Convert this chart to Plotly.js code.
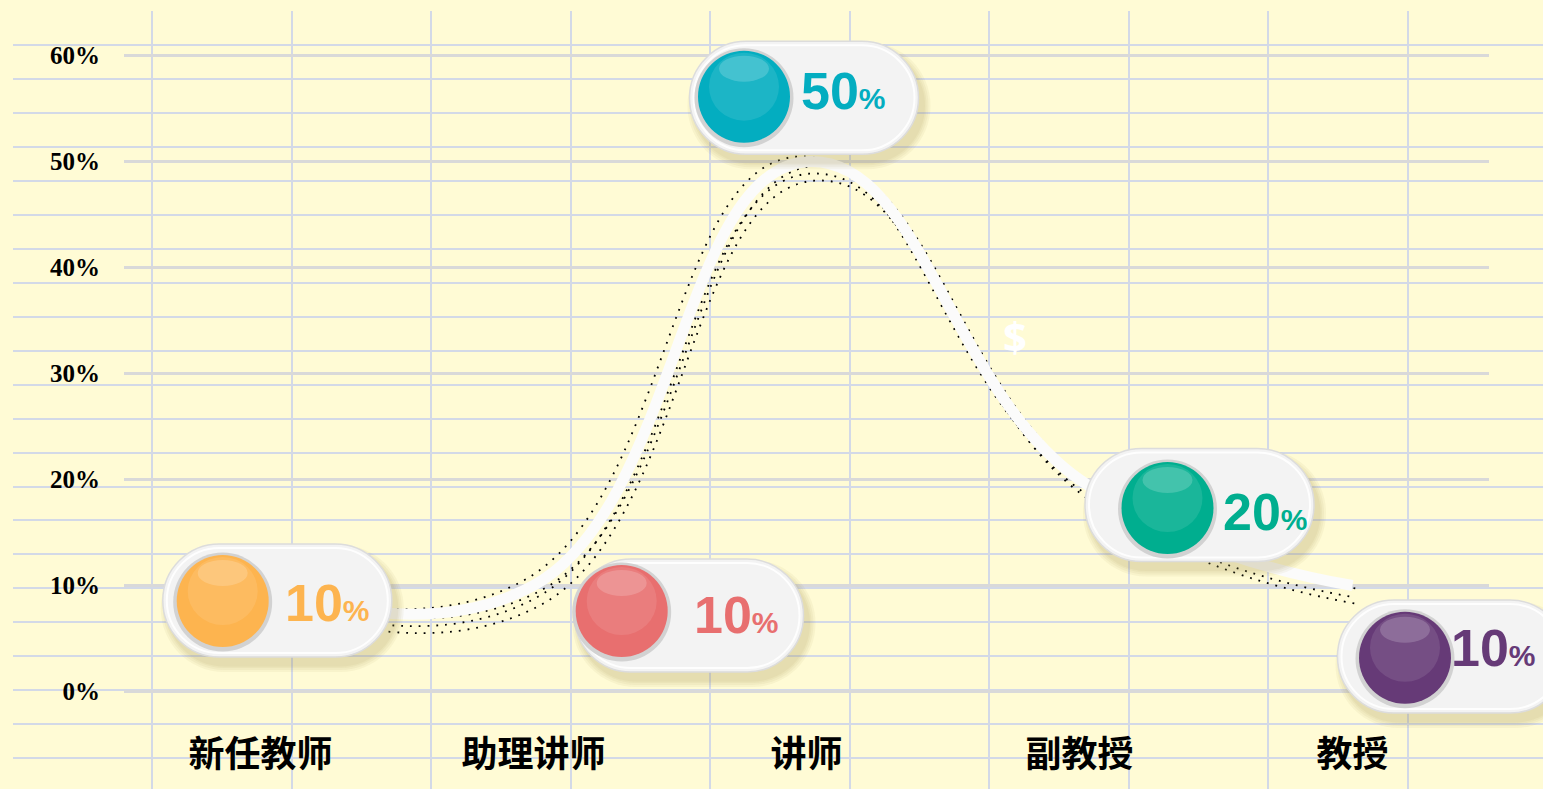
<!DOCTYPE html>
<html><head><meta charset="utf-8">
<script src="https://cdn.plot.ly/plotly-3.0.1.min.js"></script>
<style>html,body{margin:0;padding:0;background:#fffbd5;overflow:hidden}</style>
</head><body><div id="chart" style="width:1543px;height:789px"></div>
<script>
// ---- data ----
const categories = ['新任教师', '助理讲师', '讲师', '副教授', '教授'];
const values = [10, 10, 50, 20, 10];
const yTickValues = [0, 10, 20, 30, 40, 50, 60];
const ballColors = ['#FDB44F', '#E86F6F', '#03ADC0', '#00AE8F', '#663A77'];

// ---- geometry / style ----
const W = 1543, H = 789;
const PLOT_L = 124, PLOT_R = 1489, Y0PX = 691.5, YTOPPX = 55.7, Y_MAX = 60;
const ppu = (Y0PX - YTOPPX) / Y_MAX;
const catW = (PLOT_R - PLOT_L) / categories.length;
const xFull = [-0.5 - PLOT_L / catW, categories.length - 0.5 + (W - PLOT_R) / catW];
const yFull = [-(H - Y0PX) / ppu, Y_MAX + YTOPPX / ppu];

// per-label decoration offsets (px, screen coords, down positive)
const pillLayout = [
  {pill: [16.8, 15], ball: [-37.8, 15.5], text: [67, 17.5]},
  {pill: [155.5, 30], ball: [88.2, 25.5], text: [202.5, 29.8]},
  {pill: [-2.5, -63.8], ball: [-62.5, -65], text: [37, -70.7]},
  {pill: [120, 25.4], ball: [88, 28.4], text: [186, 32]},
  {pill: [99.5, 71], ball: [52.5, 72.2], text: [141, 62]}
];
const PILL_W = 229, PILL_H = 113, BALL_R = 46;
const shadowOffsets = [[9, 4], [-10, -5], [3, 12], [8, 19]];

const traces = [];
const layout = {
  width: W, height: H,
  margin: {l: 0, r: 0, t: 0, b: 0},
  paper_bgcolor: '#fffbd5',
  plot_bgcolor: 'rgba(0,0,0,0)',
  showlegend: false,
  // graph-paper background
  xaxis: {domain: [13 / W, 1], range: [13, W], tick0: 13, dtick: 139.45, showgrid: true,
          gridcolor: '#d3d9e7', gridwidth: 2, zeroline: false, showticklabels: false, ticks: '', fixedrange: true, anchor: 'y'},
  yaxis: {domain: [0, 1 - 11 / H], range: [H, 11], tick0: 11, dtick: 33.965, showgrid: true,
          gridcolor: '#d3d9e7', gridwidth: 2, zeroline: false, showticklabels: false, ticks: '', fixedrange: true, anchor: 'x'},
  // visible chart axes
  xaxis2: {domain: [PLOT_L / W, PLOT_R / W], type: 'category', range: [-0.5, categories.length - 0.5], anchor: 'y2',
           showgrid: false, zeroline: false,
           ticks: 'outside', ticklen: 21, tickcolor: 'rgba(0,0,0,0)', showline: false, fixedrange: true,
           tickfont: {family: '"Noto Sans CJK SC", sans-serif', size: 36, color: '#000', weight: 'bold'}},
  yaxis2: {domain: [(H - (Y0PX + ppu)) / H, (H - (YTOPPX - ppu)) / H], range: [-1, Y_MAX + 1], anchor: 'x2',
           tickvals: yTickValues, ticktext: yTickValues.map(v => v + '%'), showgrid: true,
           gridcolor: '#d9d9d9', gridwidth: 3, zeroline: false, showline: false,
           ticks: 'outside', ticklen: 18, tickcolor: 'rgba(0,0,0,0)', fixedrange: true,
           tickfont: {family: '"Liberation Serif", "Times New Roman", serif', size: 25, color: '#000', weight: 'bold'}},
  shapes: [],
  annotations: []
};

// placeholder traces (draw nothing) so the background grid and chart axes are built
traces.push({x: values, y: values, xaxis: 'x', yaxis: 'y', mode: 'none', hoverinfo: 'skip'});
traces.push({x: categories, y: values, xaxis: 'x2', yaxis: 'y2', mode: 'none', hoverinfo: 'skip'});

// dotted shadow traces (shifted axes) + white line
shadowOffsets.forEach((o, k) => {
  const n = 3 + k;
  const dx = o[0] / catW, dy = o[1] / ppu;
  layout['xaxis' + n] = {domain: [0, 1], range: [xFull[0] - dx, xFull[1] - dx], type: 'category', visible: false, fixedrange: true, anchor: 'y' + n};
  layout['yaxis' + n] = {domain: [0, 1], range: [yFull[0] + dy, yFull[1] + dy], visible: false, fixedrange: true, anchor: 'x' + n};
  traces.push({x: categories, y: values, xaxis: 'x' + n, yaxis: 'y' + n, mode: 'lines', hoverinfo: 'skip',
    line: {shape: 'spline', smoothing: 1.3, color: '#000', width: 1.8, dash: '1.8px,7px'}});
});
const M = 3 + shadowOffsets.length;
layout['xaxis' + M] = {domain: [0, 1], range: xFull, type: 'category', visible: false, fixedrange: true, anchor: 'y' + M};
layout['yaxis' + M] = {domain: [0, 1], range: yFull, visible: false, fixedrange: true, anchor: 'x' + M};
traces.push({x: categories, y: values, xaxis: 'x' + M, yaxis: 'y' + M, mode: 'lines', hoverinfo: 'skip',
  line: {shape: 'spline', smoothing: 1.3, color: '#fbfbfb', width: 11}});

// ---- pill labels ----
const P = (x, y) => x.toFixed(2) + ',' + (-y).toFixed(2);
function stadium(cx, cy, w, h) {
  const r = h / 2, k = 0.5523 * r;
  const x0 = cx - w / 2 + r, x1 = cx + w / 2 - r, t = cy - r, b = cy + r;
  return 'M' + P(x0, t) + ' L' + P(x1, t) +
    ' C' + P(x1 + k, t) + ' ' + P(x1 + r, cy - k) + ' ' + P(x1 + r, cy) +
    ' C' + P(x1 + r, cy + k) + ' ' + P(x1 + k, b) + ' ' + P(x1, b) +
    ' L' + P(x0, b) +
    ' C' + P(x0 - k, b) + ' ' + P(x0 - r, cy + k) + ' ' + P(x0 - r, cy) +
    ' C' + P(x0 - r, cy - k) + ' ' + P(x0 - k, t) + ' ' + P(x0, t) + ' Z';
}
const XR = 'x' + M, YR = 'y' + M;
function base(i) {
  return {xref: XR, yref: YR, xsizemode: 'pixel', ysizemode: 'pixel', xanchor: categories[i], yanchor: values[i], layer: 'above'};
}
function circle(i, cx, cy, rx, ry, fill, line) {
  return Object.assign(base(i), {type: 'circle', x0: cx - rx, x1: cx + rx, y0: -(cy + ry), y1: -(cy - ry),
    fillcolor: fill, line: line || {width: 0}});
}
values.forEach((v, i) => {
  const L = pillLayout[i];
  const [pcx, pcy] = L.pill;
  [14, 10, 6, 3].forEach(e => {
    layout.shapes.push(Object.assign(base(i), {type: 'path', path: stadium(pcx + 5, pcy + 8, PILL_W + e, PILL_H + e),
      fillcolor: 'rgba(150,140,70,0.07)', line: {width: 0}}));
  });
  layout.shapes.push(Object.assign(base(i), {type: 'path', path: stadium(pcx, pcy, PILL_W, PILL_H),
    fillcolor: '#f3f3f3', line: {color: '#dcdcdc', width: 1.5}}));
  layout.shapes.push(Object.assign(base(i), {type: 'path', path: stadium(pcx, pcy, PILL_W - 8, PILL_H - 8),
    fillcolor: 'rgba(0,0,0,0)', line: {color: 'rgba(255,255,255,0.9)', width: 2}}));
  const [bx, by] = L.ball;
  layout.shapes.push(circle(i, bx, by + 1, BALL_R + 3.5, BALL_R + 3.5, '#d2d2d2'));
  layout.shapes.push(circle(i, bx, by, BALL_R, BALL_R, ballColors[i]));
  layout.shapes.push(circle(i, bx, by - 10, 35, 34, 'rgba(255,255,255,0.10)'));
  layout.shapes.push(circle(i, bx, by - 28, 25, 13, 'rgba(255,255,255,0.18)'));
  const [tx, ty] = L.text;
  layout.annotations.push({xref: XR, yref: YR, x: categories[i], y: v, xshift: tx, yshift: -ty, showarrow: false,
    text: v + '<span style="font-size:30px">%</span>',
    font: {family: '"Liberation Sans", Arial, sans-serif', size: 52, color: ballColors[i], weight: 'bold'}});
});
layout.annotations.push({xref: 'paper', yref: 'paper', x: 1015 / W, y: 1 - 335 / H, showarrow: false, text: '$',
  font: {family: '"Open Sans", sans-serif', size: 42, color: '#ffffff', weight: 'bold'}});

Plotly.newPlot('chart', traces, layout, {displayModeBar: false, staticPlot: true});
</script></body></html>
